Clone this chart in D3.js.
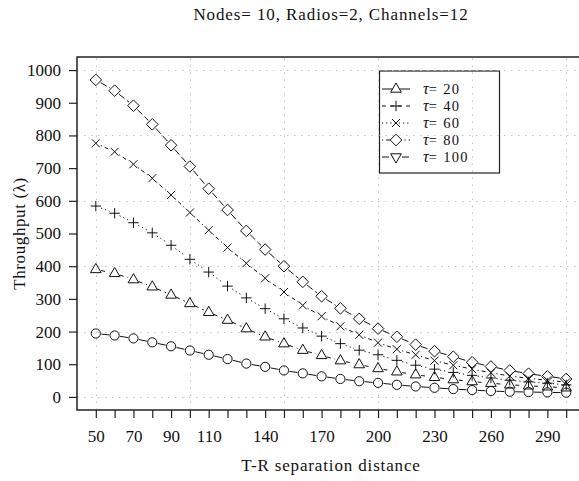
<!DOCTYPE html>
<html>
<head>
<meta charset="utf-8">
<script src="https://cdn.jsdelivr.net/npm/d3@7"></script>
<style>
  html, body { margin: 0; padding: 0; background: #fff; }
  svg { display: block; }
  svg text { font-family: "Liberation Serif", "Times New Roman", serif; fill: #111; }
</style>
</head>
<body>
<svg id="chart" width="579" height="481"></svg>
<script>
// T-R separation distances (x values shared by every series)
const distances = [50, 60, 70, 80, 90, 100, 110, 120, 130, 140, 150, 160, 170, 180, 190, 200, 210, 220, 230, 240, 250, 260, 270, 280, 290, 300];

// Throughput per series
const tau20  = [194, 188, 179, 167, 155, 142, 129, 116, 102, 92, 81, 72, 63, 55, 48, 43, 37, 32, 28, 24, 21, 18, 16, 15, 14, 13];
const tau40  = [390, 378, 359, 337, 312, 286, 259, 235, 209, 184, 163, 143, 127, 111, 99, 87, 77, 68, 60, 53, 47, 42, 37, 34, 31, 28];
const tau60  = [584, 562, 533, 502, 464, 421, 382, 339, 303, 270, 239, 211, 186, 163, 143, 129, 112, 97, 85, 75, 66, 58, 51, 46, 42, 37];
const tau80  = [776, 750, 712, 669, 618, 564, 510, 457, 409, 363, 321, 280, 247, 216, 190, 166, 146, 129, 111, 97, 85, 74, 64, 57, 51, 45];
const tau100 = [970, 937, 891, 834, 770, 705, 637, 572, 508, 451, 400, 352, 308, 271, 239, 209, 184, 160, 140, 123, 106, 93, 81, 71, 63, 55];

// Axis ticks and labels
const xTickValues = [50, 60, 70, 80, 90, 100, 110, 120, 130, 140, 150, 160, 170, 180, 190, 200, 210, 220, 230, 240, 250, 260, 270, 280, 290, 300];
const xTickLabels = [50, 70, 90, 110, 140, 170, 200, 230, 260, 290];
const yTickValues = [0, 100, 200, 300, 400, 500, 600, 700, 800, 900, 1000];
const xGridValues = [50, 100, 150, 200, 250, 300];
const yGridValues = [0, 200, 400, 600, 800, 1000];

// Legend entries
const legendLabels = ["20", "40", "60", "80", "100"];
const legendSymbols = ["triangle", "plus", "cross", "diamond", "triangleDown"];

const titleText = "Nodes= 10, Radios=2, Channels=12";
const xTitle = "T-R separation distance";
const yTitle = "Throughput (\u03bb)";

const FONT = "Liberation Serif, Times New Roman, serif";

// Series drawing styles: marker shape and dash pattern
const seriesList = [
  { values: tau20,  symbol: "circle",   dash: null },
  { values: tau40,  symbol: "triangle", dash: "4,4" },
  { values: tau60,  symbol: "plus",     dash: "1.2,3" },
  { values: tau80,  symbol: "cross",    dash: "1.2,3,4,3" },
  { values: tau100, symbol: "diamond",  dash: "7,3" }
];
const legendDashes = [null, "4,4", "1.2,3", "1.2,3,4,3", "7,3"];

const svg = d3.select("#chart");
svg.append("rect").attr("width", 579).attr("height", 481).attr("fill", "#fff");

const plot = { left: 77, right: 585, top: 57, bottom: 410 };

const x = d3.scaleLinear().domain([40, 310]).range([plot.left, plot.right]);
const y = d3.scaleLinear().domain([-40, 1040]).range([plot.bottom, plot.top]);

function markerPath(kind) {
  switch (kind) {
    case "circle": {
      const r = 4.6;
      return `M${-r},0A${r},${r} 0 1,0 ${r},0A${r},${r} 0 1,0 ${-r},0Z`;
    }
    case "triangle": return "M0,-6L5.3,3.2L-5.3,3.2Z";
    case "triangleDown": return "M0,6L5.3,-3.2L-5.3,-3.2Z";
    case "plus": return "M-5.2,0H5.2M0,-5.2V5.2";
    case "cross": return "M-4,-4L4,4M-4,4L4,-4";
    case "diamond": return "M0,-5.8L5.8,0L0,5.8L-5.8,0Z";
  }
  return "";
}

// Legend box (drawn under the grid)
const legend = svg.append("g").attr("class", "legend");
legend.append("rect")
  .attr("x", 379.5).attr("y", 71).attr("width", 120).attr("height", 102)
  .attr("fill", "none").attr("stroke", "#222").attr("stroke-width", 1.2);

const rowY = [89, 106, 123, 140, 157];
legendLabels.forEach((lab, i) => {
  const g = legend.append("g");
  g.append("line")
    .attr("x1", 382).attr("x2", 410).attr("y1", rowY[i]).attr("y2", rowY[i])
    .attr("stroke", "#111").attr("stroke-width", 1)
    .attr("stroke-dasharray", legendDashes[i]);
  g.append("path")
    .attr("d", markerPath(legendSymbols[i]))
    .attr("transform", `translate(396,${rowY[i]})`)
    .attr("fill", "#fff").attr("stroke", "#111").attr("stroke-width", 1);
  const t = g.append("text")
    .attr("x", 423).attr("y", rowY[i] + 5)
    .attr("font-family", FONT).attr("font-size", 14.5);
  t.append("tspan").attr("font-style", "italic").attr("font-size", 16).text("\u03c4");
  t.append("tspan").attr("letter-spacing", 1.3).text("= " + lab);
});

// Dotted grid
const grid = svg.append("g").attr("stroke", "#c4c4c4").attr("stroke-width", 1)
  .attr("stroke-dasharray", "1.5,5.5");
grid.selectAll("line.v").data(xGridValues).join("line")
  .attr("class", "v")
  .attr("x1", d => Math.round(x(d)) + 0.5).attr("x2", d => Math.round(x(d)) + 0.5)
  .attr("y1", plot.bottom).attr("y2", plot.top);
grid.selectAll("line.h").data(yGridValues).join("line")
  .attr("class", "h")
  .attr("x1", plot.left).attr("x2", plot.right)
  .attr("y1", d => Math.round(y(d)) + 0.5).attr("y2", d => Math.round(y(d)) + 0.5);

// Series: line segments with gaps around the markers, then markers
const gap = 5.5;
seriesList.forEach(s => {
  const pts = distances.map((d, i) => [x(d), y(s.values[i])]);
  const g = svg.append("g");
  for (let i = 0; i < pts.length - 1; i++) {
    const [x1, y1] = pts[i], [x2, y2] = pts[i + 1];
    const len = Math.hypot(x2 - x1, y2 - y1);
    if (len <= 2 * gap) continue;
    const ux = (x2 - x1) / len, uy = (y2 - y1) / len;
    g.append("line")
      .attr("x1", x1 + ux * gap).attr("y1", y1 + uy * gap)
      .attr("x2", x2 - ux * gap).attr("y2", y2 - uy * gap)
      .attr("stroke", "#111").attr("stroke-width", 1)
      .attr("stroke-dasharray", s.dash);
  }
  g.selectAll("path.m").data(pts).join("path")
    .attr("class", "m")
    .attr("d", markerPath(s.symbol))
    .attr("transform", d => `translate(${d[0]},${d[1]})`)
    .attr("fill", "none").attr("stroke", "#111").attr("stroke-width", 1);
});

// Axes
const yAxis = svg.append("g")
  .attr("transform", `translate(${plot.left},0)`)
  .call(d3.axisLeft(y).tickValues(yTickValues).tickSize(8).tickSizeOuter(0).tickPadding(8)
    .tickFormat(d => String(d)));
yAxis.attr("font-family", FONT).attr("font-size", 17);
yAxis.select(".domain").remove();
yAxis.selectAll("line").attr("stroke", "#222").attr("stroke-width", 1.2);

const xAxis = svg.append("g")
  .attr("transform", `translate(0,${plot.bottom})`)
  .call(d3.axisBottom(x).tickValues(xTickValues).tickSize(8).tickSizeOuter(0).tickPadding(12)
    .tickFormat(d => xTickLabels.includes(d) ? String(d) : ""));
xAxis.attr("font-family", FONT).attr("font-size", 17);
xAxis.select(".domain").remove();
xAxis.selectAll("line").attr("stroke", "#222").attr("stroke-width", 1.2);

// Plot frame
svg.append("rect")
  .attr("x", plot.left).attr("y", plot.top)
  .attr("width", plot.right - plot.left).attr("height", plot.bottom - plot.top)
  .attr("fill", "none").attr("stroke", "#222").attr("stroke-width", 1.5);

// Titles
svg.append("text")
  .attr("x", (plot.left + plot.right) / 2).attr("y", 20)
  .attr("text-anchor", "middle").attr("font-family", FONT).attr("font-size", 17)
  .attr("letter-spacing", 0.9)
  .text(titleText);

svg.append("text")
  .attr("x", (plot.left + plot.right) / 2).attr("y", 471)
  .attr("text-anchor", "middle").attr("font-family", FONT).attr("font-size", 17)
  .attr("letter-spacing", 0.85)
  .text(xTitle);

svg.append("text")
  .attr("transform", `translate(25,${(plot.top + plot.bottom) / 2}) rotate(-90)`)
  .attr("text-anchor", "middle").attr("font-family", FONT).attr("font-size", 17)
  .attr("letter-spacing", 0.6)
  .text(yTitle);
</script>
</body>
</html>
